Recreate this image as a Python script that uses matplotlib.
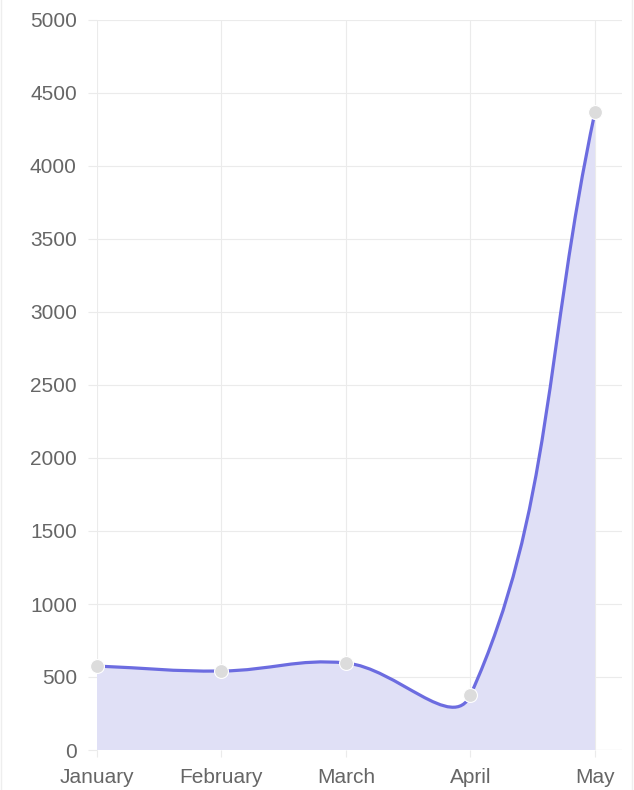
import numpy as np
import matplotlib.pyplot as plt
from matplotlib.path import Path
from matplotlib.patches import PathPatch
from matplotlib.lines import Line2D

plt.rcParams['font.family'] = ['Liberation Sans', 'DejaVu Sans']

months = ['January', 'February', 'March', 'April', 'May']
values = [575, 541, 596, 377, 4370]
y_ticks = list(range(0, 5001, 500))

line_color = '#6c6ce0'
fill_color = '#e0e0f6'
grid_color = '#ebebeb'
text_color = '#666666'


def spline_controls(pts, tension=0.4):
    # same control point rule as chart.js (tension 0.4), in pixel space
    n = len(pts)
    prev_cp, next_cp = [], []
    for i in range(n):
        cur = pts[i]
        prv = pts[i - 1] if i > 0 else cur
        nxt = pts[i + 1] if i < n - 1 else cur
        d01 = np.hypot(*(cur - prv))
        d12 = np.hypot(*(nxt - cur))
        tot = d01 + d12
        s01 = d01 / tot if tot else 0
        s12 = d12 / tot if tot else 0
        prev_cp.append(cur - tension * s01 * (nxt - prv))
        next_cp.append(cur + tension * s12 * (nxt - prv))
    return prev_cp, next_cp


fig = plt.figure(figsize=(6.34, 7.9), dpi=100)
ax = fig.add_axes([97 / 634, 40 / 790, 525 / 634, 730 / 790])
x = np.arange(len(months))
ax.set_xlim(0, (622 - 97) / (595 - 97) * 4)
ax.set_ylim(0, 5000)

# bezier path built in display coords then mapped back to data
disp = ax.transData.transform(np.column_stack([x, values]))
pc, nc = spline_controls(disp)
verts = [disp[0]]
codes = [Path.MOVETO]
for i in range(1, len(disp)):
    verts += [nc[i - 1], pc[i], disp[i]]
    codes += [Path.CURVE4] * 3
inv = ax.transData.inverted()
verts = inv.transform(np.array(verts))

line_path = Path(verts, codes)
fill_verts = np.vstack([verts, [[x[-1], 0], [x[0], 0], [x[0], 0]]])
fill_codes = codes + [Path.LINETO, Path.LINETO, Path.CLOSEPOLY]
fill_path = Path(fill_verts, fill_codes)

ax.add_patch(PathPatch(fill_path, facecolor=fill_color, edgecolor='none', zorder=1))
ax.add_patch(PathPatch(line_path, facecolor='none', edgecolor=line_color,
                       lw=2.3, zorder=3))
ax.scatter(x, values, s=100, color='#dcdcdc', edgecolor='white',
           linewidth=0.8, zorder=4, clip_on=False)

ax.set_xticks(x)
ax.set_xticklabels(months)
ax.set_yticks(y_ticks)
ax.grid(True, color=grid_color, lw=0.8, zorder=0)
ax.set_axisbelow(True)
for s in ax.spines.values():
    s.set_visible(False)
ax.axhline(0, color='#dadada', lw=0.8, zorder=0.5)
ax.tick_params(axis='y', length=6.5, width=0.8, color=grid_color,
               labelcolor=text_color, labelsize=15, pad=8)
ax.tick_params(axis='x', length=5, width=0.8, color=grid_color,
               labelcolor=text_color, labelsize=15, pad=8)

fig.add_artist(Line2D([0.002, 0.002], [0, 1], color='#eeeeee', lw=1))
fig.add_artist(Line2D([0.997, 0.997], [0, 1], color='#eeeeee', lw=1))

fig.savefig('out.png', dpi=100)
